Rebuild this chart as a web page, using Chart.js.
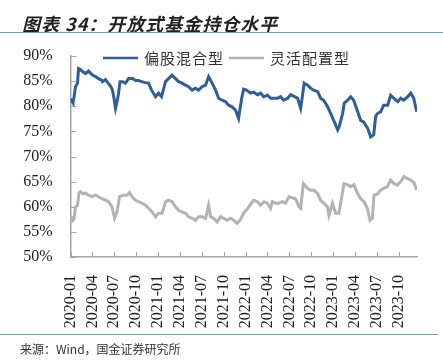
<!DOCTYPE html>
<html>
<head>
<meta charset="utf-8">
<script src="https://cdn.jsdelivr.net/npm/chart.js@4"></script>
<style>
    body { margin: 0; background: #fff; }
    #wrap { position: relative; width: 443px; height: 361px; overflow: hidden; }
    #chart-box { position: absolute; left: 0; top: 0; width: 443px; height: 361px; }
    .title {
        position: absolute; left: 22px; top: 10px;
        font: italic bold 18px "Noto Sans CJK SC", sans-serif;
        color: #222; letter-spacing: 1px;
    }
    .rule { position: absolute; left: 0; height: 1px; background: #7f9db3; }
    .source {
        position: absolute; left: 20px; top: 340px;
        font: 12px "Noto Sans CJK SC", sans-serif; color: #333;
    }
</style>
</head>
<body>
<div id="wrap">
    <div id="chart-box"><canvas id="fundChart"></canvas></div>
    <div class="title">图表 34：开放式基金持仓水平</div>
    <div class="rule" style="top: 32px; width: 443px;"></div>
    <div class="rule" style="top: 334px; width: 438px;"></div>
    <div class="source">来源：Wind，国金证券研究所</div>
</div>

<script>
// x values are months since 2020-01
const tickLabels = [
    "2020-01", "2020-04", "2020-07", "2020-10",
    "2021-01", "2021-04", "2021-07", "2021-10",
    "2022-01", "2022-04", "2022-07", "2022-10",
    "2023-01", "2023-04", "2023-07", "2023-10",
];
const seriesNames = ["偏股混合型", "灵活配置型"];

const hybridMonths = [
    0, 0.21, 0.34, 0.48, 0.69, 0.96, 1.10, 1.37, 1.65, 2.06, 2.47, 2.74, 3.02, 3.43, 3.84,
    4.25, 4.39, 4.80, 5.21, 5.49, 5.76, 5.97, 6.17, 6.38, 6.58, 6.79, 7.13, 7.54, 7.96, 8.51,
    8.92, 9.33, 9.74, 10.29, 10.70, 11.11, 11.66, 12.07, 12.48, 13.03, 13.44, 13.92, 14.40, 14.81, 15.29,
    15.77, 16.19, 16.67, 17.15, 17.56, 18.04, 18.52, 18.93, 19.41, 19.89, 20.30, 20.78, 21.26, 21.67, 22.15,
    22.63, 23.04, 23.46, 23.73, 24.14, 24.69, 25.10, 25.65, 26.06, 26.47, 27.02, 27.43, 27.85, 28.40, 28.81,
    29.22, 29.77, 30.18, 30.59, 31.14, 31.55, 31.82, 32.03, 32.51, 32.92, 33.33, 33.88, 34.29, 34.70, 35.25,
    35.66, 36.08, 36.63, 36.83, 37.31, 37.52, 38.00, 38.41, 38.82, 39.37, 39.78, 40.19, 40.74, 41.15, 41.56,
    41.84, 42.11, 42.52, 42.93, 43.48, 43.89, 44.31, 44.86, 45.27, 45.68, 46.23, 46.64, 47.05, 47.46,
];
const hybridValues = [
    81.5, 81.0, 80.7, 81.8, 83.9, 84.6, 87.5, 87.3, 86.9, 86.5, 87.0, 86.6, 86.2, 85.9, 85.5,
    85.2, 84.9, 85.3, 84.5, 84.0, 83.2, 81.5, 79.6, 80.9, 82.5, 84.9, 84.9, 84.6, 85.5, 85.5,
    85.1, 85.1, 84.9, 84.7, 84.6, 83.2, 81.9, 82.6, 81.9, 84.9, 85.5, 86.2, 85.5, 84.9, 84.6,
    84.2, 83.9, 83.2, 83.6, 83.2, 83.9, 84.2, 85.9, 84.6, 83.2, 81.6, 81.2, 80.9, 80.2, 79.9,
    79.2, 77.6, 81.5, 83.4, 83.2, 82.6, 82.8, 82.3, 82.6, 81.9, 82.2, 81.6, 81.6, 81.6, 81.9,
    81.2, 81.6, 82.3, 82.0, 81.6, 79.6, 82.3, 84.6, 84.2, 83.6, 83.2, 82.9, 81.6, 81.2, 79.9,
    78.6, 77.2, 75.3, 75.9, 78.6, 80.6, 81.2, 81.9, 81.2, 78.9, 77.2, 76.9, 75.6, 73.9, 74.3,
    78.0, 78.6, 78.9, 80.2, 80.2, 82.2, 81.6, 80.9, 81.6, 81.2, 81.9, 82.6, 81.6, 78.9,
];

const flexMonths = [
    0, 0.27, 0.48, 0.69, 0.96, 1.17, 1.37, 1.65, 2.06, 2.47, 2.95, 3.43, 3.84, 4.32, 4.80,
    5.21, 5.69, 6.04, 6.38, 6.72, 7.27, 7.75, 8.09, 8.44, 8.92, 9.33, 9.81, 10.29, 10.70, 11.18,
    11.66, 12.07, 12.55, 13.03, 13.44, 13.92, 14.40, 14.81, 15.29, 15.77, 16.19, 16.67, 17.15, 17.56, 18.04,
    18.52, 18.93, 19.20, 19.62, 20.10, 20.58, 20.99, 21.47, 21.95, 22.36, 22.84, 23.32, 23.73, 24.21, 24.69,
    25.10, 25.65, 26.06, 26.52, 26.98, 27.43, 27.67, 28.12, 28.57, 29.04, 29.49, 29.94, 30.41, 30.86, 31.32,
    31.55, 31.92, 32.47, 32.92, 33.38, 33.84, 34.29, 34.75, 35.21, 35.43, 35.90, 36.35, 36.80, 37.27, 37.49,
    37.95, 38.41, 38.86, 39.33, 39.78, 40.23, 40.70, 41.05, 41.38, 41.60, 42.07, 42.52, 42.98, 43.44, 43.89,
    44.35, 44.81, 45.27, 45.72, 46.19, 46.64, 47.09, 47.46,
];
const flexValues = [
    58.3, 57.2, 57.5, 60.0, 60.3, 62.8, 63.0, 62.6, 62.7, 62.3, 62.0, 62.3, 62.0, 61.6, 61.3,
    61.0, 60.0, 57.7, 59.0, 62.0, 62.3, 62.3, 62.8, 62.0, 61.3, 61.0, 60.7, 60.3, 59.7, 59.0,
    58.0, 58.7, 58.7, 61.0, 61.3, 61.0, 60.0, 59.3, 59.0, 58.7, 58.0, 57.7, 57.3, 58.0, 58.0,
    57.7, 60.3, 58.0, 57.7, 57.0, 58.0, 57.7, 57.3, 57.7, 57.3, 56.7, 57.5, 58.7, 59.5, 60.5,
    61.3, 61.0, 60.3, 61.0, 60.7, 59.7, 61.0, 60.7, 60.7, 61.0, 60.7, 62.0, 61.8, 61.6, 60.0,
    59.7, 64.6, 63.7, 63.3, 63.3, 62.7, 61.3, 60.7, 60.0, 58.3, 60.7, 58.7, 58.7, 62.7, 64.6,
    64.4, 64.0, 64.4, 62.7, 61.6, 61.0, 59.7, 57.3, 57.7, 62.3, 62.5, 63.3, 63.7, 64.0, 65.3,
    64.6, 64.3, 65.0, 66.0, 65.6, 65.3, 64.8, 63.3,
];

const colors = ["#2f5e98", "#b3b3b3"];
const axisColor = "#a6a6a6";
const serif = "'Liberation Serif', 'Times New Roman', serif";

function toPoints(xs, ys) {
    return xs.map((x, i) => ({ x, y: ys[i] }));
}

// small tick marks pointing into the plot, like the source chart
const innerTicks = {
    id: "innerTicks",
    afterDraw(chart) {
        const { ctx, chartArea, scales } = chart;
        ctx.save();
        ctx.strokeStyle = axisColor;
        ctx.lineWidth = 1;
        scales.x.ticks.forEach((t) => {
            const px = Math.round(scales.x.getPixelForValue(t.value)) + 0.5;
            ctx.beginPath();
            ctx.moveTo(px, chartArea.bottom);
            ctx.lineTo(px, chartArea.bottom - 5);
            ctx.stroke();
        });
        scales.y.ticks.forEach((t) => {
            const py = Math.round(scales.y.getPixelForValue(t.value)) + 0.5;
            ctx.beginPath();
            ctx.moveTo(chartArea.left, py);
            ctx.lineTo(chartArea.left + 6, py);
            ctx.stroke();
        });
        ctx.restore();
    },
};

// legend sits on the top edge of the plot
const topLegend = {
    id: "topLegend",
    afterDraw(chart) {
        const { ctx, chartArea } = chart;
        const y = chartArea.top + 2;
        let x = 103;
        ctx.save();
        ctx.font = "15px 'Noto Sans CJK SC', sans-serif";
        ctx.textBaseline = "middle";
        seriesNames.forEach((name, i) => {
            ctx.strokeStyle = colors[i];
            ctx.lineWidth = 2.5;
            ctx.beginPath();
            ctx.moveTo(x, y);
            ctx.lineTo(x + 35, y);
            ctx.stroke();
            x += 41;
            ctx.fillStyle = "#333";
            ctx.letterSpacing = "1px";
            ctx.fillText(name, x, y);
            x += ctx.measureText(name).width + 5;
        });
        ctx.restore();
    },
};

new Chart(document.getElementById("fundChart").getContext("2d"), {
    type: "line",
    data: {
        datasets: [
            {
                label: seriesNames[0],
                data: toPoints(hybridMonths, hybridValues),
                borderColor: colors[0],
                borderWidth: 3,
                pointRadius: 0,
                tension: 0,
            },
            {
                label: seriesNames[1],
                data: toPoints(flexMonths, flexValues),
                borderColor: colors[1],
                borderWidth: 3,
                pointRadius: 0,
                tension: 0,
            },
        ],
    },
    options: {
        responsive: true,
        maintainAspectRatio: false,
        animation: false,
        layout: { padding: { top: 56, left: 0, right: 26, bottom: 0 } },
        plugins: {
            legend: { display: false },
            tooltip: { enabled: false },
        },
        scales: {
            x: {
                type: "linear",
                min: 0,
                max: 47.5,
                afterBuildTicks: (scale) => {
                    scale.ticks = scale.ticks.filter((t) => t.value % 3 === 0);
                },
                afterFit: (scale) => {
                    scale.height = 104;
                },
                ticks: {
                    stepSize: 3,
                    autoSkip: false,
                    minRotation: 90,
                    maxRotation: 90,
                    padding: 10,
                    color: "#222",
                    font: { family: serif, size: 16 },
                    callback: (value) => tickLabels[value / 3] ?? "",
                },
                grid: { display: false },
                border: { color: axisColor, width: 1.5 },
            },
            y: {
                min: 50,
                max: 90,
                afterFit: (scale) => {
                    scale.width = 70.5;
                },
                ticks: {
                    stepSize: 5,
                    padding: 10,
                    color: "#222",
                    font: { family: serif, size: 16 },
                    callback: (value) => value + "%",
                },
                grid: { display: false },
                border: { color: axisColor, width: 1.5 },
            },
        },
    },
    plugins: [innerTicks, topLegend],
});
</script>
</body>
</html>
